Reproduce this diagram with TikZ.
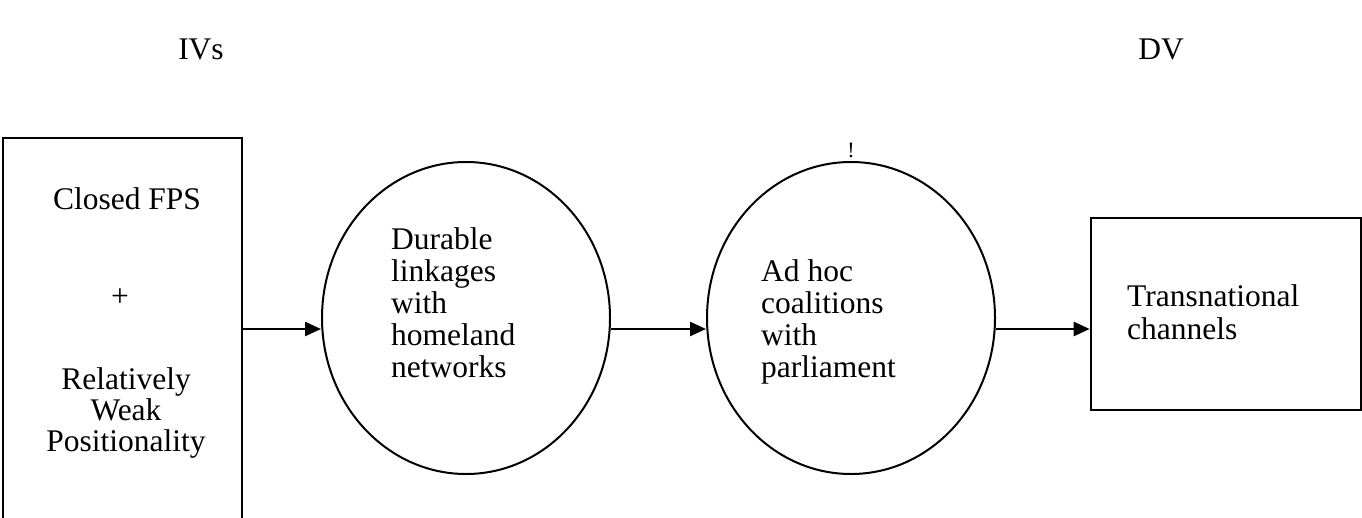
\documentclass[tikz,border=0pt]{standalone}
\usepackage{fontspec}
\setmainfont{Liberation Serif}
\usetikzlibrary{arrows.meta,shapes.geometric}
\begin{document}
\begin{tikzpicture}[x=1pt,y=-1pt,
  box/.style={draw,line width=2.6pt,rectangle,inner sep=0pt},
  oval/.style={draw,line width=2pt,ellipse,inner sep=0pt},
  arr/.style={line width=2.4pt,-{Triangle[length=16pt,width=14pt]}},
  lbl/.style={font=\fontsize{31.5}{36}\selectfont,inner sep=0pt},
]
\useasboundingbox (0,0) rectangle (1362,517);
% headings
\node[lbl,anchor=base] (iv) at (201,59) {IVs};
\node[lbl,anchor=base] (dv) at (1161,59) {DV};
% shapes
\node[box,minimum width=239pt,minimum height=392pt] (b1) at (122.5,334) {};
\node[oval,minimum width=288pt,minimum height=312pt] (c1) at (466,318) {};
\node[oval,minimum width=288pt,minimum height=312pt] (c2) at (851,318) {};
\node[box,minimum width=270pt,minimum height=192pt] (b2) at (1226,314) {};
\node[font=\fontsize{22}{22}\selectfont,inner sep=0pt,anchor=base] (ex) at (851,157) {!};
% left box text
\node[lbl,anchor=base] (l1) at (127,209) {Closed FPS};
\node[lbl,anchor=center] (l2) at (120,298) {+};
\node[lbl,anchor=base] (l3) at (126,389) {Relatively};
\node[lbl,anchor=base] (l4) at (126,420) {Weak};
\node[lbl,anchor=base] (l5) at (126,451) {Positionality};
% circle 1 text
\node[lbl,anchor=base west] (d1) at (391,249) {Durable};
\node[lbl,anchor=base west] (d2) at (391,281) {linkages};
\node[lbl,anchor=base west] (d3) at (391,313) {with};
\node[lbl,anchor=base west] (d4) at (391,345) {homeland};
\node[lbl,anchor=base west] (d5) at (391,377) {networks};
% circle 2 text
\node[lbl,anchor=base west] (a1) at (761,281) {Ad hoc};
\node[lbl,anchor=base west] (a2) at (761,313) {coalitions};
\node[lbl,anchor=base west] (a3) at (761,345) {with};
\node[lbl,anchor=base west] (a4) at (761,377) {parliament};
% right box text
\node[lbl,anchor=base west] (r1) at (1127,306) {Transnational};
\node[lbl,anchor=base west] (r2) at (1127,339) {channels};
% arrows
\coordinate (ay) at (0,329);
\draw[arr] (b1.east |- ay) -- (c1.west |- ay);
\draw[arr] (c1.east |- ay) -- (c2.west |- ay);
\draw[arr] (c2.east |- ay) -- (b2.west |- ay);
\end{tikzpicture}
\end{document}
